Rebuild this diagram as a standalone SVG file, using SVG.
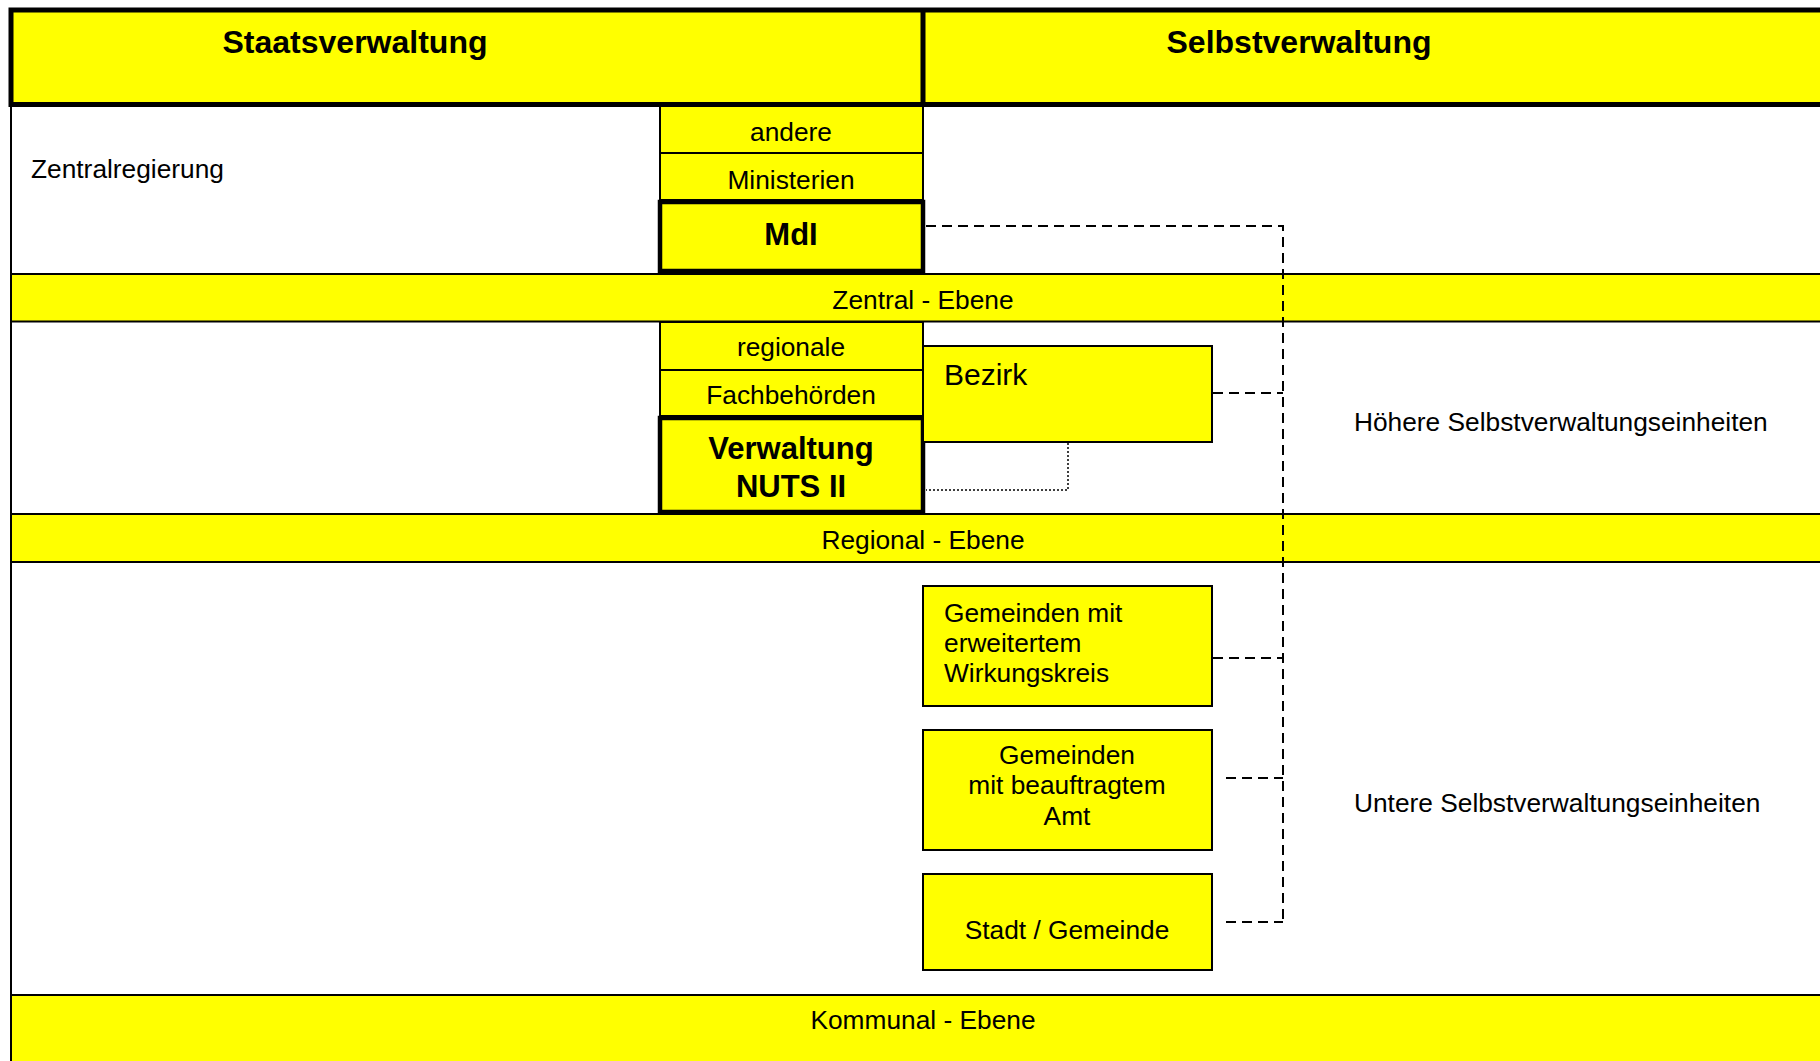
<svg xmlns="http://www.w3.org/2000/svg" width="1820" height="1061" viewBox="0 0 1820 1061">
<style>
text{font-family:"Liberation Sans",Arial,sans-serif;fill:#000}
.y{fill:#ffff00;stroke:#000;stroke-width:2}
.thick{fill:#ffff00;stroke:#000;stroke-width:4.5}
.h{font-size:32px;font-weight:bold;text-anchor:middle}
.n{font-size:26.3px}
.c{text-anchor:middle}
.b{font-size:31px;font-weight:bold;text-anchor:middle}
.dash{fill:none;stroke:#000;stroke-width:2;stroke-dasharray:10 6}
.dot{fill:none;stroke:#000;stroke-width:1.5;stroke-dasharray:2 2}
</style>
<rect width="1820" height="1061" fill="#fff"/>
<line x1="11" y1="104" x2="11" y2="1061" stroke="#000" stroke-width="2"/>
<g id="header">
<rect x="11" y="10" width="1815" height="94.5" fill="#ffff00" stroke="#000" stroke-width="5"/>
<line x1="923" y1="10" x2="923" y2="104" stroke="#000" stroke-width="5"/>
<text class="h" x="355" y="53">Staatsverwaltung</text>
<text class="h" x="1299" y="53">Selbstverwaltung</text>
</g>
<g id="zentral-ebene">
<rect class="y" x="11" y="274" width="1815" height="47.5"/>
<text class="n c" x="923" y="309">Zentral - Ebene</text>
</g>
<g id="regional-ebene">
<rect class="y" x="11" y="514" width="1815" height="48"/>
<text class="n c" x="923" y="549">Regional - Ebene</text>
</g>
<g id="kommunal-ebene">
<rect class="y" x="11" y="995" width="1815" height="80"/>
<text class="n c" x="923" y="1029">Kommunal - Ebene</text>
</g>
<g id="zentralregierung"><text class="n" x="31" y="178">Zentralregierung</text></g>
<g id="andere"><rect class="y" x="660" y="106" width="263" height="47"/><text class="n c" x="791" y="141">andere</text></g>
<g id="ministerien"><rect class="y" x="660" y="153" width="263" height="47"/><text class="n c" x="791" y="189">Ministerien</text></g>
<g id="mdi"><rect class="thick" x="660" y="202" width="263" height="69"/><text class="b" x="791" y="245">MdI</text></g>
<g id="regionale"><rect class="y" x="660" y="322" width="263" height="48"/><text class="n c" x="791" y="356">regionale</text></g>
<g id="fachbehoerden"><rect class="y" x="660" y="370" width="263" height="46"/><text class="n c" x="791" y="404">Fachbehörden</text></g>
<g id="nuts2"><rect class="thick" x="660" y="418" width="263" height="94"/><text class="b" x="791" y="459">Verwaltung</text><text class="b" x="791" y="497">NUTS II</text></g>
<g id="bezirk"><rect class="y" x="923" y="346" width="289" height="96"/><text x="944" y="385" font-size="30">Bezirk</text></g>
<g id="gemeinden-erweitert"><rect class="y" x="923" y="586" width="289" height="120"/>
<text class="n" x="944" y="622">Gemeinden mit</text><text class="n" x="944" y="652">erweitertem</text><text class="n" x="944" y="682">Wirkungskreis</text></g>
<g id="gemeinden-beauftragt"><rect class="y" x="923" y="730" width="289" height="120"/>
<text class="n c" x="1067" y="764">Gemeinden</text><text class="n c" x="1067" y="794">mit beauftragtem</text><text class="n c" x="1067" y="825">Amt</text></g>
<g id="stadt-gemeinde"><rect class="y" x="923" y="874" width="289" height="96"/><text class="n c" x="1067" y="939">Stadt / Gemeinde</text></g>
<g id="hoehere"><text class="n" x="1354" y="431">Höhere Selbstverwaltungseinheiten</text></g>
<g id="untere"><text class="n" x="1354" y="812">Untere Selbstverwaltungseinheiten</text></g>
<g id="connectors">
<path class="dash" d="M926 226 H1283 V923"/>
<path class="dash" d="M1213 393 H1283"/>
<path class="dash" d="M1213 658 H1283"/>
<path class="dash" d="M1226 778 H1283"/>
<path class="dash" d="M1226 922 H1283"/>
<path class="dot" d="M1068 443 V490 H926"/>
</g>
</svg>
